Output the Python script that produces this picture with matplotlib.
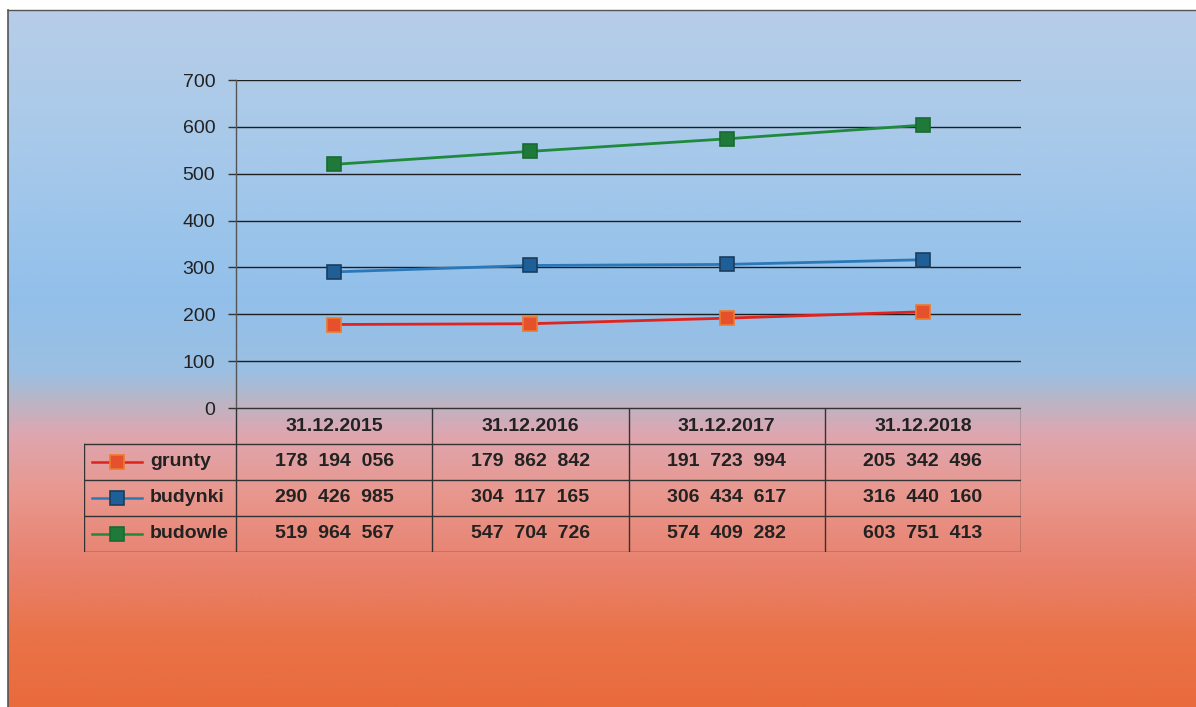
import numpy as np
import matplotlib
matplotlib.use("Agg")
import matplotlib.pyplot as plt
from matplotlib import font_manager
from matplotlib.colors import LinearSegmentedColormap

# values in PLN, plotted in millions
dates=["31.12.2015","31.12.2016","31.12.2017","31.12.2018"]
series_names=["grunty","budynki","budowle"]
grunty=[178194056,179862842,191723994,205342496]
budynki=[290426985,304117165,306434617,316440160]
budowle=[519964567,547704726,574409282,603751413]
yticks=[0,100,200,300,400,500,600,700]

line_colors=["#e0231f","#2a78b8","#1f8a3e"]
marker_face=["#e5512c","#1d5f96","#1f7a3a"]
marker_edge=["#f07a2a","#1b3d5c","#1a6a33"]

W,H=1196,707
fig=plt.figure(figsize=(W/100,H/100),dpi=100)
fig.patch.set_facecolor("white")
plt.rcParams['font.family']=['Liberation Sans','DejaVu Sans']

names={f.name for f in font_manager.fontManager.ttflist}
if "Liberation Sans Narrow" in names:
    tfam=['Liberation Sans Narrow','DejaVu Sans']
    tsize=16
else:
    tfam=['Liberation Sans','DejaVu Sans']
    tsize=14
print(tfam)

# background gradient (scanned slide)
bg=fig.add_axes([8/W,0,1-8/W,1-10/H],zorder=-5)
stops=[(0.0,"#b7cde8"),(0.2,"#a7c9ea"),(0.41,"#92c0ea"),(0.52,"#9bbfe2"),
       (0.56,"#b9b6c6"),(0.61,"#dea6b0"),(0.69,"#e8988f"),(0.80,"#e9816e"),
       (0.90,"#e97348"),(1.0,"#e96b3c")]
cmap=LinearSegmentedColormap.from_list("bg",stops)
grad=np.linspace(0,1,400).reshape(-1,1)
bg.imshow(grad,aspect="auto",cmap=cmap,extent=[0,1,1,0])
bg.set_xlim(0,1)
bg.set_ylim(1,0)
bg.axis("off")
fig.add_artist(plt.Line2D([8/W,8/W],[0,1-10/H],color="#555555",lw=1.2))
fig.add_artist(plt.Line2D([8/W,1],[1-10/H,1-10/H],color="#555555",lw=1.0))

# main line chart
x0,x1=236,1021
ax=fig.add_axes([x0/W,1-408/H,(x1-x0)/W,(408-80)/H])
ax.set_facecolor("none")
xs=np.arange(len(dates))
data=[grunty,budynki,budowle]
for i,vals in enumerate(data):
    v=np.array(vals)/1e6
    ax.plot(xs,v,color=line_colors[i],lw=2.0,marker="s",markersize=10,
            markerfacecolor=marker_face[i],markeredgecolor=marker_edge[i],
            markeredgewidth=1.2,zorder=3)
ax.set_xlim(-0.5,len(dates)-0.5)
ax.set_ylim(0,700)
ax.set_yticks(yticks)
ax.set_yticklabels([str(t) for t in yticks],fontsize=14,color="#222222")
ax.set_xticks([])
for t in yticks:
    ax.axhline(t,color="#1e1e1e",lw=1.0,zorder=1)
for s in ["top","right","bottom"]:
    ax.spines[s].set_visible(False)
ax.spines["left"].set_color("#555555")
ax.spines["left"].set_linewidth(1.0)
ax.tick_params(axis="y",length=6,width=1,color="#333333",pad=9)

# data table under the chart
tl=84
xleft=-0.5-(x0-tl)/((x1-x0)/len(dates))
tab=fig.add_axes([tl/W,1-552/H,(x1-tl)/W,(552-408)/H])
tab.set_facecolor("none")
tab.set_xlim(xleft,len(dates)-0.5)
tab.set_ylim(len(series_names)+1,0)
tab.axis("off")
def px(p):
    return -0.5+(p-x0)/((x1-x0)/len(dates))
lc="#333333"
nrow=len(series_names)+1
# horizontal lines
tab.plot([-0.5,len(dates)-0.5],[0,0],color=lc,lw=1)
for r in range(1,nrow+1):
    tab.plot([xleft,len(dates)-0.5],[r,r],color=lc,lw=1)
# vertical lines
tab.plot([xleft,xleft],[1,nrow],color=lc,lw=1)
for c in range(len(dates)+1):
    tab.plot([c-0.5,c-0.5],[0,nrow],color=lc,lw=1)
for j,d in enumerate(dates):
    tab.text(j,0.52,d,ha="center",va="center",fontsize=tsize,fontweight="bold",
             color="#222222",family=tfam)
def fmt(n):
    s=f"{n:,}".replace(","," ")
    return s.replace(" ","  ")
for i,name in enumerate(series_names):
    r=i+1.5
    tab.plot([px(92),px(142)],[r,r],color=line_colors[i],lw=1.8)
    tab.plot([px(117)],[r],marker="s",markersize=10,markerfacecolor=marker_face[i],
             markeredgecolor=marker_edge[i],markeredgewidth=1.2)
    tab.text(px(150),r,name,ha="left",va="center",fontsize=tsize,fontweight="bold",
             color="#222222",family=tfam)
    for j,v in enumerate(data[i]):
        tab.text(j,r,fmt(v),ha="center",va="center",fontsize=tsize,fontweight="bold",
                 color="#222222",family=tfam)

fig.savefig("out.png",dpi=100)
